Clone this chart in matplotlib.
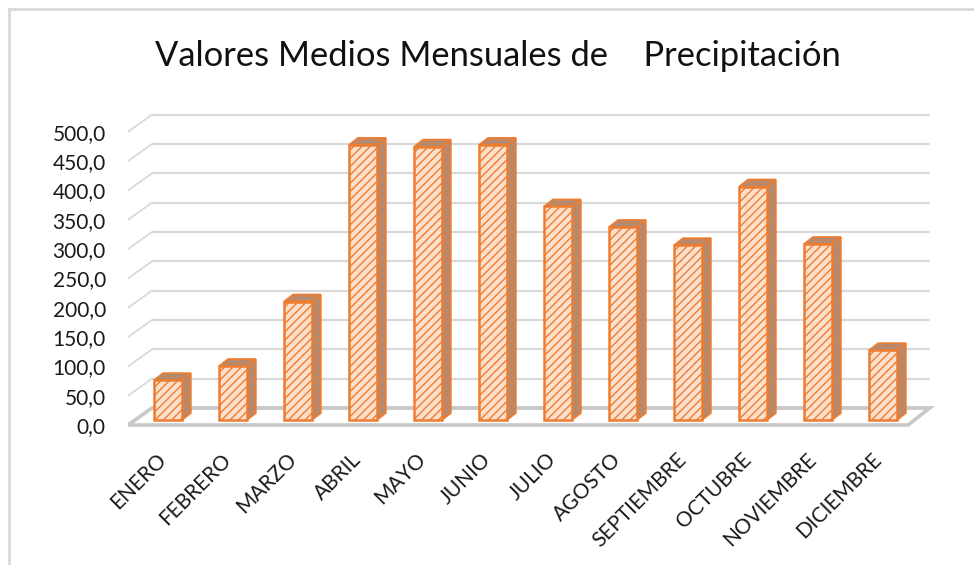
import matplotlib.pyplot as plt
import matplotlib.transforms as mtransforms
from matplotlib.patches import Polygon
from matplotlib.lines import Line2D

meses = ["ENERO", "FEBRERO", "MARZO", "ABRIL", "MAYO", "JUNIO", "JULIO",
         "AGOSTO", "SEPTIEMBRE", "OCTUBRE", "NOVIEMBRE", "DICIEMBRE"]
precip = [68, 92, 202, 469, 466, 469, 364, 329, 298, 398, 300, 119]
y_ticks = [0, 50, 100, 150, 200, 250, 300, 350, 400, 450, 500]
titulo = "Valores Medios Mensuales de    Precipitación"

naranja = "#ED7D31"
relleno = "#FCE0CC"
lateral = "#A68E80"
gris = "#D9D9D9"

plt.rcParams['font.family'] = ['Lato', 'DejaVu Sans']
plt.rcParams['hatch.linewidth'] = 1.0

fig = plt.figure(figsize=(9.74, 5.65), dpi=100)
ax = fig.add_axes([128 / 974, (565 - 430) / 565, (935 - 128) / 974, (430 - 105) / 565])
ax.set_xlim(-0.615, 11.8)
ax.set_ylim(-17.0, 537)
for s in ax.spines.values():
    s.set_visible(False)

# pseudo 3D geometry (data units)
front_y = -8.5      # front edge of the floor
back_y = 20.5       # back wall baseline
front_x = -0.615
back_x = -0.246
right_back = 11.72
right_front = 11.385

# back wall gridlines + left wall diagonals
for k in y_ticks:
    ax.plot([back_x, right_back], [k + back_y, k + back_y], color=gris,
            lw=1.6 if k else 2.6, zorder=1, solid_capstyle='butt')
    ax.plot([front_x, back_x], [k + front_y, k + back_y], color=gris, lw=1.3, zorder=1)

# floor
ax.add_patch(Polygon([(front_x, front_y), (right_front, front_y), (right_back, back_y),
                      (back_x, back_y)], closed=True, facecolor='none',
                     edgecolor="#C8C8C8", lw=2.6, zorder=1))

# bars: side + top faces, then front face
w = 0.213
dx, dy = 0.138, 11.9
for i, v in enumerate(precip):
    ax.add_patch(Polygon([(i + w, 0), (i + w + dx, dy), (i + w + dx, v + dy), (i + w, v)],
                         closed=True, facecolor=lateral, edgecolor=naranja, hatch='.....',
                         lw=1.3, zorder=3))
    ax.add_patch(Polygon([(i - w, v), (i + w, v), (i + w + dx, v + dy), (i - w + dx, v + dy)],
                         closed=True, facecolor=lateral, edgecolor=naranja, hatch='.....',
                         lw=1.3, zorder=3))
ax.bar(range(len(precip)), precip, width=2 * w, bottom=0, color=relleno,
       edgecolor=naranja, hatch='////', lw=1.8, zorder=4)

ax.set_yticks([k + front_y for k in y_ticks])
ax.set_yticklabels([f"{k:.1f}".replace(".", ",") for k in y_ticks], fontsize=15,
                   color="#1a1a1a")
ax.tick_params(axis='y', length=0, pad=16)

ax.set_xticks(range(len(meses)))
ax.set_xticklabels(meses, rotation=45, rotation_mode='anchor', ha='right', va='center',
                   fontsize=15, color="#1a1a1a")
ax.tick_params(axis='x', length=0, pad=19)
shift = mtransforms.ScaledTranslation(-5 / 100, 0, fig.dpi_scale_trans)
for lab in ax.get_xticklabels():
    lab.set_transform(lab.get_transform() + shift)

fig.text(498 / 974, 1 - 56 / 565, titulo, ha='center', va='center', fontsize=24.8,
         color="#111111")

# chart frame
fig.add_artist(Line2D([9 / 974, 9 / 974], [0, 1 - 9 / 565], color=gris, lw=2,
                      transform=fig.transFigure))
fig.add_artist(Line2D([9 / 974, 1], [1 - 9 / 565, 1 - 9 / 565], color=gris, lw=2,
                      transform=fig.transFigure))

fig.savefig("out.png", dpi=100)
